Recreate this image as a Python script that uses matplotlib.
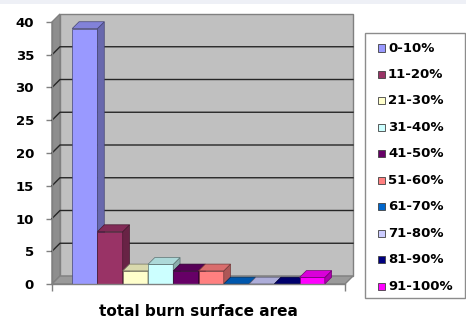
import matplotlib
matplotlib.use("Agg")
import matplotlib.pyplot as plt
from matplotlib.patches import Polygon, Rectangle
from matplotlib.colors import to_rgb
import numpy as np

# burn surface ranges and patient counts
ranges = ['0-10%', '11-20%', '21-30%', '31-40%', '41-50%',
          '51-60%', '61-70%', '71-80%', '81-90%', '91-100%']
counts = [39, 8, 2, 3, 2, 2, 0, 0, 0, 1]
colors = ['#9999ff', '#993366', '#ffffcc', '#ccffff', '#660066',
          '#ff8080', '#0066cc', '#ccccff', '#000080', '#ff00ff']
yticks = [0, 5, 10, 15, 20, 25, 30, 35, 40]
xlabel = 'total burn surface area'

W, H = 466, 327
plt.rcParams['font.family'] = ['DejaVu Sans']
fig = plt.figure(figsize=(W / 100, H / 100), dpi=100)
fig.patch.set_facecolor('white')

# thin strip along the top edge
fig.patches.append(Rectangle((0, 1 - 4 / H), 1, 4 / H, transform=fig.transFigure,
                             facecolor='#eef0f6', edgecolor='none', zorder=0))

ax = fig.add_axes([52 / W, 43 / H, 293 / W, 262 / H])
x0, x1 = -0.8, 10.8
ax.set_xlim(x0, x1)
ax.set_ylim(0, 40)
ax.patch.set_visible(False)

# depth offset of the 3d look, in data units
ddx = 8 / 293 * (x1 - x0)
ddy = 8 / 262 * 40


def poly(pts, fc, ec='none', lw=0.0, z=1):
    ax.add_patch(Polygon(pts, closed=True, facecolor=fc, edgecolor=ec,
                         linewidth=lw, zorder=z, clip_on=False))


top = yticks[-1]
# back wall, side wall, floor
poly([(x0 + ddx, ddy), (x1 + ddx, ddy), (x1 + ddx, top + ddy), (x0 + ddx, top + ddy)],
     '#c0c0c0', '#808080', 1.0, 1)
poly([(x0, 0), (x0 + ddx, ddy), (x0 + ddx, top + ddy), (x0, top)],
     '#8e8e8e', '#808080', 1.0, 1)
poly([(x0, 0), (x1, 0), (x1 + ddx, ddy), (x0 + ddx, ddy)],
     '#9a9a9a', '#808080', 1.0, 1)

for v in yticks[1:-1]:
    ax.plot([x0, x0 + ddx, x1 + ddx], [v, v + ddy, v + ddy], color='#262626',
            lw=1.0, zorder=2, clip_on=False)


def shade(c, f):
    return tuple(np.clip(np.array(to_rgb(c)) * f, 0, 1))


# columns, drawn left to right so later ones cover hidden faces
bdx, bdy = ddx * 0.85, ddy * 0.85
for i, (v, c) in enumerate(zip(counts, colors)):
    l, r = i, i + 1
    ec = shade(c, 0.45)
    z = 3 + i
    if v > 0:
        poly([(l, 0), (r, 0), (r, v), (l, v)], c, ec, 0.5, z)
        poly([(r, 0), (r + bdx, bdy), (r + bdx, v + bdy), (r, v)], shade(c, 0.68), ec, 0.5, z)
    poly([(l, v), (r, v), (r + bdx, v + bdy), (l + bdx, v + bdy)], shade(c, 0.85), ec, 0.5, z)

for s in ['top', 'right']:
    ax.spines[s].set_visible(False)
for s in ['left', 'bottom']:
    ax.spines[s].set_color('#808080')
    ax.spines[s].set_linewidth(1.0)
    ax.spines[s].set_zorder(20)

ax.set_yticks(yticks)
ax.set_yticklabels([str(t) for t in yticks], fontweight='bold', fontsize=9.5)
ax.tick_params(axis='y', length=4, width=1, color='#808080', pad=9)
ax.set_xticks([x0, x1])
ax.set_xticklabels([])
ax.tick_params(axis='x', length=5, width=1, color='#808080')

fig.text(198 / W, 1 - 312 / H, xlabel, ha='center', va='center',
         fontsize=11, fontweight='bold')

# legend box
def fx(px):
    return px / W


def fy(py):
    return 1 - py / H


fig.patches.append(Rectangle((fx(365), fy(298)), fx(465) - fx(365), (298 - 33) / H,
                             transform=fig.transFigure, facecolor='white',
                             edgecolor='#8c8c8c', linewidth=1.0, zorder=5))
step = (286 - 48) / (len(ranges) - 1)
for k, (lab, c) in enumerate(zip(ranges, colors)):
    yc = 48 + k * step
    fig.patches.append(Rectangle((fx(378), fy(yc + 3.5)), 7 / W, 7 / H,
                                 transform=fig.transFigure, facecolor=c,
                                 edgecolor='#404040', linewidth=0.6, zorder=6))
    fig.text(fx(388), fy(yc), lab, ha='left', va='center', fontsize=9.5,
             fontweight='bold', zorder=7)

fig.savefig('out.png', dpi=100)
